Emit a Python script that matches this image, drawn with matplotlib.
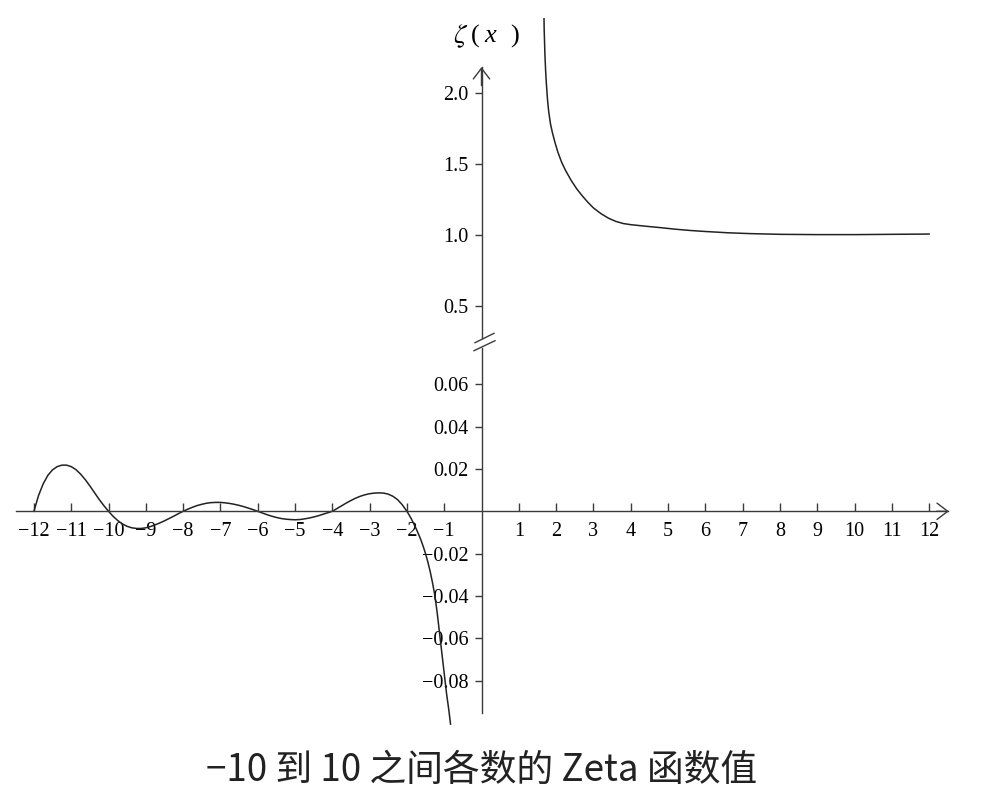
import matplotlib
matplotlib.use("Agg")
import matplotlib.pyplot as plt
from matplotlib.lines import Line2D

# ---- data ----
x_neg = [-12.0, -11.875, -11.75, -11.625, -11.5, -11.375, -11.25, -11.125, -11.0,
         -10.875, -10.75, -10.625, -10.5, -10.375, -10.25, -10.125, -10.0,
         -9.875, -9.75, -9.625, -9.5, -9.375, -9.25, -9.125, -9.0,
         -8.875, -8.75, -8.625, -8.5, -8.375, -8.25, -8.125, -8.0,
         -7.875, -7.75, -7.625, -7.5, -7.375, -7.25, -7.125, -7.0,
         -6.875, -6.75, -6.625, -6.5, -6.375, -6.25, -6.125, -6.0,
         -5.875, -5.75, -5.625, -5.5, -5.375, -5.25, -5.125, -5.0,
         -4.875, -4.75, -4.625, -4.5, -4.375, -4.25, -4.125, -4.0,
         -3.875, -3.75, -3.625, -3.5, -3.375, -3.25, -3.125, -3.0,
         -2.875, -2.75, -2.625, -2.5, -2.375, -2.25, -2.125, -2.0,
         -1.9375, -1.875, -1.8125, -1.75, -1.6875, -1.625, -1.5625, -1.5,
         -1.4375, -1.375, -1.3125, -1.25, -1.1875, -1.125, -1.0625, -1.0,
         -0.9375, -0.875, -0.83]
y_neg = [0.0, 0.0075, 0.0130, 0.0170, 0.0196, 0.0211, 0.0218, 0.0218, 0.0211,
         0.0197, 0.0176, 0.0150, 0.0120, 0.0088, 0.0056, 0.0027, 0.0,
         -0.0024, -0.0044, -0.0060, -0.0071, -0.0078, -0.0081, -0.0081, -0.0078,
         -0.0072, -0.0064, -0.0055, -0.0045, -0.0034, -0.0023, -0.0011, 0.0,
         0.0010, 0.0019, 0.0027, 0.0033, 0.0038, 0.0041, 0.0042, 0.0042,
         0.0040, 0.0037, 0.0033, 0.0028, 0.0022, 0.0015, 0.0008, 0.0,
         -0.0008, -0.0016, -0.0023, -0.0029, -0.0034, -0.0037, -0.0039, -0.0040,
         -0.0039, -0.0036, -0.0032, -0.0027, -0.0021, -0.0014, -0.0007, 0.0,
         0.0013, 0.0026, 0.0039, 0.0051, 0.0062, 0.0071, 0.0078, 0.0083,
         0.0086, 0.0087, 0.0086, 0.0081, 0.0071, 0.0055, 0.0031, 0.0,
         -0.0018, -0.0038, -0.0060, -0.0083, -0.0108, -0.0135, -0.0166, -0.0200,
         -0.0240, -0.0285, -0.0338, -0.0398, -0.0480, -0.0575, -0.0670, -0.0765,
         -0.0860, -0.0940, -0.1005]

x_pos = [1.676, 1.68, 1.69, 1.70, 1.72, 1.74, 1.77, 1.80, 1.85, 1.90, 1.97, 2.05, 2.15,
         2.25, 2.40, 2.55, 2.70, 2.85, 3.0, 3.2, 3.4, 3.6, 3.8, 4.0, 4.4, 4.8, 5.2,
         5.6, 6.0, 6.6, 7.2, 8.0, 9.0, 10.0, 11.0, 12.0]
y_pos = [2.52, 2.45, 2.36, 2.27, 2.15, 2.06, 1.95, 1.87, 1.78, 1.72, 1.65, 1.58, 1.51,
         1.455, 1.385, 1.325, 1.275, 1.230, 1.190, 1.150, 1.118, 1.095, 1.080, 1.072,
         1.061, 1.051, 1.040, 1.031, 1.024, 1.015, 1.009, 1.004, 1.002, 1.002, 1.004, 1.006]

x_ticks = [-12, -11, -10, -9, -8, -7, -6, -5, -4, -3, -2, -1, 1, 2, 3, 4, 5, 6, 7, 8, 9, 10, 11, 12]
y_ticks_low = [-0.08, -0.06, -0.04, -0.02, 0.02, 0.04, 0.06]
y_ticks_up = [0.5, 1.0, 1.5, 2.0]
title = "−10 到 10 之间各数的 Zeta 函数值"

W, H = 981, 807
fig = plt.figure(figsize=(W / 100, H / 100), dpi=100)

serif = ["Liberation Serif", "DejaVu Serif"]
plt.rcParams["mathtext.fontset"] = "stix"
TICK_FS = 14.5

# pixel geometry
x0_px, xu = 481.5, 37.3
xlim = ((0 - x0_px) / xu, (W - x0_px) / xu)
brk = 343
low_top, low_bot = brk, 740
y0_low, yu_low = 511.3, 2117.5
ax_lo = fig.add_axes([0, (H - low_bot) / H, 1, (low_bot - low_top) / H])
ax_lo.set_xlim(*xlim)
ax_lo.set_ylim(-(low_bot - y0_low) / yu_low, (y0_low - low_top) / yu_low)
y2_px, yu_up = 92.7, 142.2
ax_up = fig.add_axes([0, (H - brk) / H, 1, brk / H])
ax_up.set_xlim(*xlim)
ax_up.set_ylim(2.0 - (brk - y2_px) / yu_up, 2.0 + y2_px / yu_up)

axcol = "#3a3a3a"
for ax in (ax_lo, ax_up):
    ax.patch.set_visible(False)
    for s in ("top", "right"):
        ax.spines[s].set_visible(False)
    ax.spines["left"].set_position(("data", 0))
    ax.spines["left"].set_color(axcol)
    ax.spines["left"].set_linewidth(1.0)
    ax.tick_params(axis="y", direction="out", length=5, width=1.0, color=axcol,
                   pad=4.5, labelsize=TICK_FS)

ax_lo.spines["bottom"].set_position(("data", 0))
ax_lo.spines["bottom"].set_color(axcol)
ax_lo.spines["bottom"].set_linewidth(1.0)
ax_lo.spines["bottom"].set_bounds(-12.48, 12.5)
ax_lo.spines["left"].set_bounds(-0.0953, (y0_low - 348) / yu_low)
ax_lo.set_xticks(x_ticks)
ax_lo.set_xticklabels([f"{t}".replace("-", "−") for t in x_ticks], family=serif, fontsize=TICK_FS)
ax_lo.tick_params(axis="x", direction="in", length=6, width=1.0, color=axcol, pad=7.5)
ax_lo.set_yticks(y_ticks_low)
ax_lo.set_yticklabels([f"{t:.2f}".replace("-", "−") for t in y_ticks_low], family=serif,
                      fontsize=TICK_FS)

ax_up.spines["bottom"].set_visible(False)
ax_up.set_xticks([])
ax_up.spines["left"].set_bounds(2.0 - (338 - y2_px) / yu_up, 2.18)
ax_up.set_yticks(y_ticks_up)
ax_up.set_yticklabels([f"{t:.1f}" for t in y_ticks_up], family=serif, fontsize=TICK_FS)

# arrowheads
ast = "->,head_length=0.55,head_width=0.42"
ax_lo.annotate("", xy=(12.53, 0), xytext=(12.2, 0),
               arrowprops=dict(arrowstyle=ast, lw=1.0, color=axcol, shrinkA=0, shrinkB=0,
                               mutation_scale=14))
ax_up.annotate("", xy=(0, 2.18), xytext=(0, 2.05),
               arrowprops=dict(arrowstyle=ast, lw=1.0, color=axcol, shrinkA=0, shrinkB=0,
                               mutation_scale=14))

# break marks
def px(xp, yp):
    return xp / W, 1 - yp / H
for (xa, ya, xb, yb) in [(475, 342.7, 494, 333.3), (474, 350.7, 495, 340.7)]:
    (fx1, fy1), (fx2, fy2) = px(xa, ya), px(xb, yb)
    fig.add_artist(Line2D([fx1, fx2], [fy1, fy2], color=axcol, lw=1.0))

# curves
ax_lo.plot(x_neg, y_neg, color="#222222", lw=1.1, clip_on=False)
ax_up.plot(x_pos, y_pos, color="#222222", lw=1.1)

# y label  ζ ( x )
ylab_y = 1 - 36 / H
fig.text(461 / W, ylab_y, r"$\zeta$", fontsize=20, ha="center", va="center")
fig.text(475 / W, ylab_y, "(", fontsize=19, ha="center", va="center", family=serif)
fig.text(490 / W, ylab_y, "x", fontsize=19, ha="center", va="center", family=serif,
         style="italic")
fig.text(515 / W, ylab_y, ")", fontsize=19, ha="center", va="center", family=serif)

# title
fig.text(482 / W, 1 - 770 / H, title, fontsize=26.5, ha="center", va="center",
         family=["Noto Sans CJK SC", "DejaVu Sans"], fontweight="light", color="#222222")

fig.savefig("out.png", dpi=100)
